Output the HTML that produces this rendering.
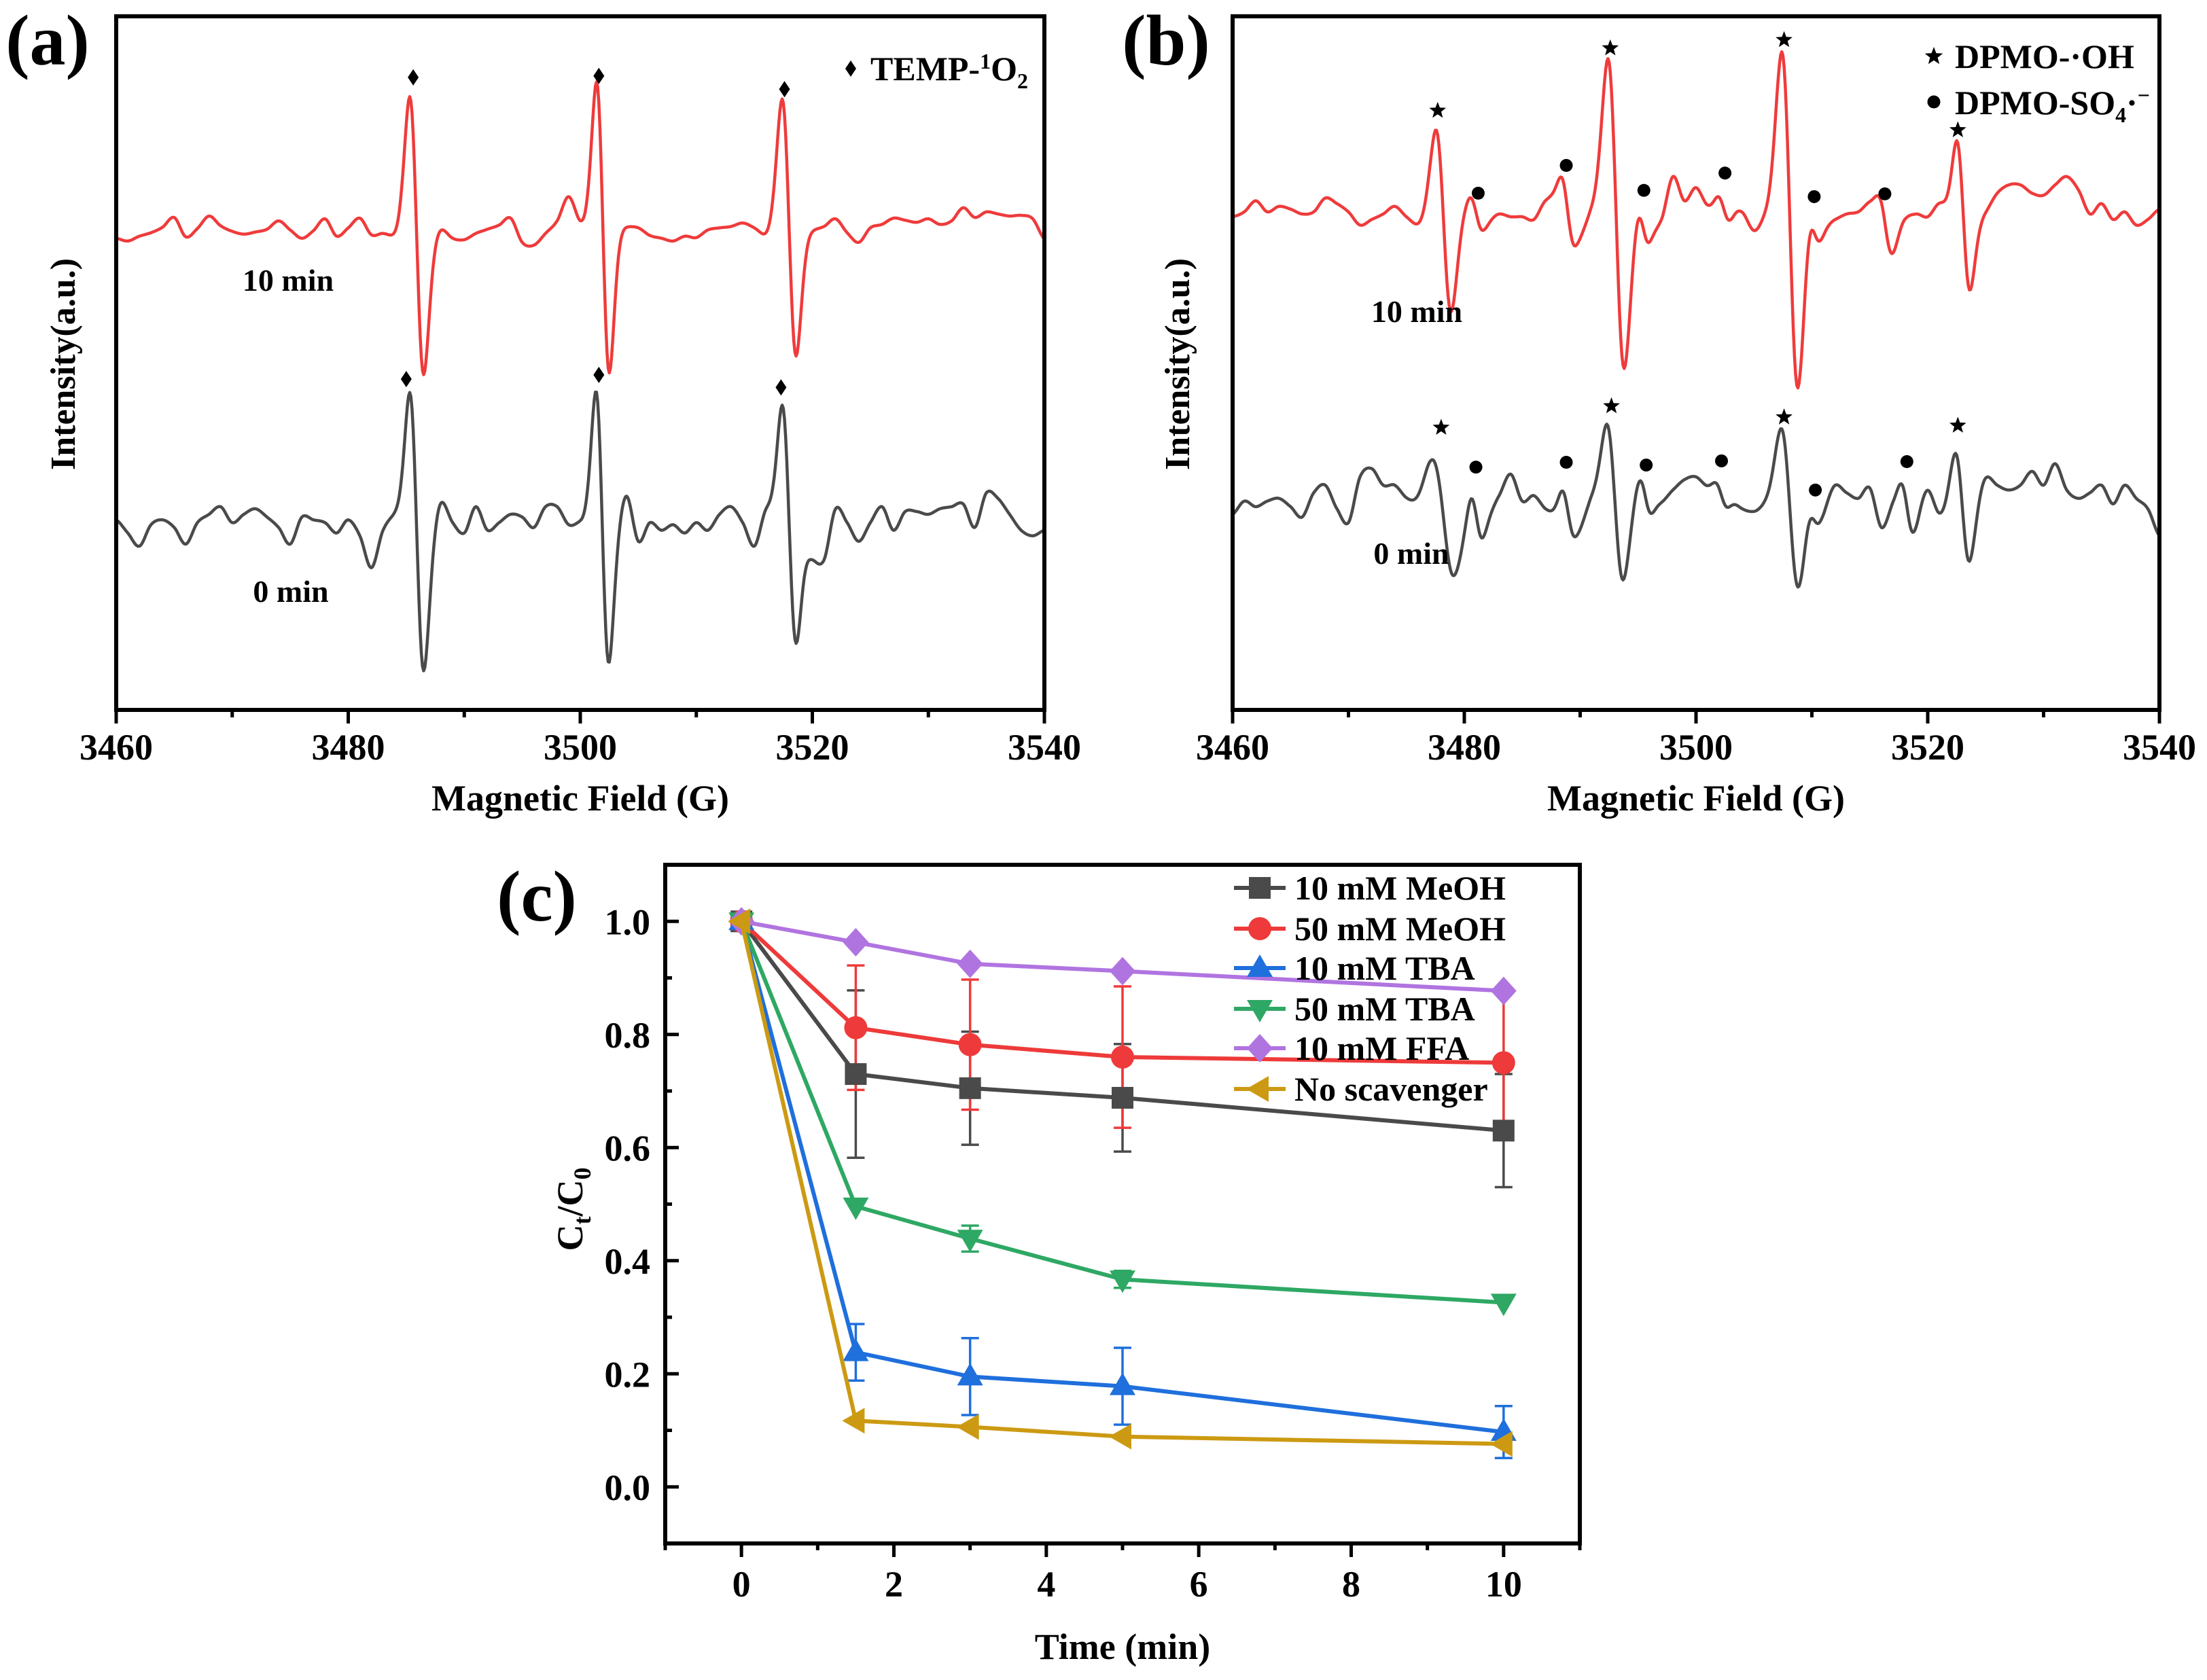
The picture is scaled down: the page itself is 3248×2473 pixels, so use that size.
<!DOCTYPE html>
<html><head><meta charset="utf-8"><style>
html,body{margin:0;padding:0;background:#fff;}
svg{display:block;font-family:"Liberation Serif",serif;font-weight:bold;}
</style></head><body>
<svg id="fig" width="3248" height="2473" viewBox="0 0 3248 2473" xmlns="http://www.w3.org/2000/svg">
<rect width="3248" height="2473" fill="#fff"/>
</svg>
<script>
// ---------- ESR data (panels a, b) ----------
const fieldStart = 3460;
const fieldTicks = [3460, 3480, 3500, 3520, 3540];
// baselines sampled every 1 G from 3460 to 3540 (intensity, arbitrary units 0..100)
const aRedBase = [68.0,67.6,68.3,68.8,69.6,71.0,68.2,69.4,71.2,69.8,69.0,68.6,68.9,69.3,70.5,69.2,68.0,69.1,70.8,68.3,69.5,70.9,68.5,68.7,68.2,68.4,68.4,68.4,69.4,68.0,67.8,68.7,69.3,69.9,70.9,67.4,67.0,68.7,70.5,74.0,70.3,69.6,69.6,69.6,69.7,69.5,68.4,68.0,67.6,68.3,68.1,69.2,69.5,69.7,70.2,69.5,68.4,69.5,69.5,69.5,69.3,69.7,70.8,68.8,67.4,69.5,70.0,70.9,70.6,70.3,70.8,70.0,70.5,72.4,71.0,71.8,71.5,71.2,71.3,70.8,67.9];
const aGrayBase = [27.4,25.5,23.6,26.7,27.4,26.3,23.9,27.0,28.2,29.3,27.0,28.2,29.0,27.8,26.3,23.9,27.8,27.4,27.0,25.5,27.4,25.1,20.5,25.9,27.8,25.9,25.9,25.9,30.1,27.0,25.5,29.3,25.9,27.0,28.2,27.8,26.3,29.3,29.3,26.7,27.0,26.5,26.5,26.5,30.9,24.3,27.0,25.9,26.7,25.5,27.0,25.9,28.2,29.3,27.0,23.6,28.6,27.0,27.0,25.9,22.0,21.6,29.0,27.0,24.3,27.0,29.3,25.9,28.6,28.6,28.2,29.0,29.3,29.7,26.3,31.3,30.5,28.2,25.9,25.1,25.9];
const bRedBase = [71.1,71.8,73.4,71.8,72.6,72.2,71.5,71.8,73.8,73.0,71.8,69.9,70.7,71.5,72.6,71.1,69.9,71.0,71.0,69.9,71.8,71.8,70.7,71.5,71.1,71.1,70.7,73.4,73.8,72.0,69.1,71.5,71.5,71.5,71.5,70.7,69.9,70.7,76.9,73.4,75.3,72.6,72.0,72.6,71.8,69.1,70.7,70.5,70.5,70.5,71.1,69.9,70.7,71.5,71.8,73.0,71.5,67.6,70.7,71.5,71.1,73.0,72.0,72.0,69.9,71.8,74.5,75.7,75.7,74.5,74.2,75.7,76.9,75.0,71.5,73.0,70.7,71.8,69.9,70.7,72.2];
const bGrayBase = [28.2,30.1,29.3,30.1,30.5,29.3,27.8,31.3,32.4,29.0,27.0,33.6,34.8,32.4,32.4,30.5,29.3,29.5,29.5,25.9,26.3,28.5,28.2,30.9,34.0,30.1,30.9,29.0,28.2,29.0,27.0,30.1,30.0,30.0,30.0,31.0,30.9,30.1,31.7,33.2,33.6,32.0,31.0,30.5,29.0,28.6,29.3,29.0,29.0,29.0,29.0,29.3,32.4,31.3,30.5,32.0,26.3,29.3,29.5,28.6,31.7,28.2,29.0,29.0,30.1,33.6,32.4,31.7,32.4,34.4,32.4,35.5,31.7,30.5,31.3,32.4,29.7,32.4,30.5,29.0,25.1];
// peaks: [center (G), amplitude, half-separation (G)]
const aRedPeaks = [[3485.9,20,0.6],[3501.95,21,0.55],[3518.0,18.5,0.6]];
const aGrayPeaks = [[3485.9,20,0.6],[3501.9,19.5,0.55],[3518.0,17,0.6]];
const bRedPeaks = [[3478.2,12.5,0.65],[3493.1,22.4,0.7],[3508.1,24.4,0.7],[3523.05,10,0.55],
  [3481.0,2.0,0.5],[3488.9,3.5,0.5],[3495.4,2.5,0.5],[3502.4,2.0,0.5],[3510.1,2.5,0.5],[3516.3,2.0,0.5]];
const bGrayPeaks = [[3478.1,6.5,0.9],[3493.0,11.2,0.7],[3508.1,11.6,0.75],[3523.0,8,0.6],
  [3481.0,3.5,0.5],[3488.9,3.0,0.5],[3495.6,2.5,0.5],[3502.2,1.5,0.5],[3510.1,1.8,0.5],[3518.2,3.0,0.5]];
// marker annotations [field, intensity]
const aDiamonds = [[3485.6,91.2],[3501.6,91.4],[3517.6,89.5],[3485.0,47.7],[3501.6,48.3],[3517.3,46.5]];
const bStars = [[3477.7,86.4],[3492.6,95.4],[3507.6,96.6],[3522.6,83.6],[3478.0,40.7],[3492.7,43.8],[3507.6,42.2],[3522.6,41.0]];
const bDots = [[3481.2,74.5],[3488.8,78.5],[3495.5,74.9],[3502.5,77.4],[3510.2,74.0],[3516.3,74.4],[3481.0,35.0],[3488.8,35.7],[3495.7,35.3],[3502.2,35.9],[3510.3,31.7],[3518.2,35.8]];

// ---------- kinetics data (panel c) ----------
const times = [0, 1.5, 3, 5, 10];
const cXTicks = [0, 2, 4, 6, 8, 10];
const cYTicks = [0.0, 0.2, 0.4, 0.6, 0.8, 1.0];
const cYTickLabels = ["0.0","0.2","0.4","0.6","0.8","1.0"];
const seriesNames = ["10 mM MeOH","50 mM MeOH","10 mM TBA","50 mM TBA","10 mM FFA","No scavenger"];
const meoh10 = [1, 0.73, 0.705, 0.688, 0.63];
const meoh10Err = [0, 0.148, 0.1, 0.095, 0.1];
const meoh50 = [1, 0.812, 0.782, 0.76, 0.75];
const meoh50Err = [0, 0.11, 0.115, 0.125, 0.125];
const tba10 = [1, 0.238, 0.195, 0.178, 0.097];
const tba10Err = [0, 0.05, 0.068, 0.068, 0.046];
const tba50 = [1, 0.496, 0.439, 0.367, 0.326];
const tba50Err = [0, 0.01, 0.023, 0.015, 0.01];
const ffa10 = [1, 0.963, 0.925, 0.912, 0.877];
const ffa10Err = [0, 0.01, 0.008, 0.008, 0.008];
const noScav = [1, 0.117, 0.106, 0.089, 0.076];
const noScavErr = [0, 0.008, 0.006, 0.006, 0.008];

const NS = "http://www.w3.org/2000/svg";
const svg = document.getElementById('fig');
function mk(tag, attrs, parent){
  const e = document.createElementNS(NS, tag);
  for (const k in attrs) e.setAttribute(k, attrs[k]);
  (parent||svg).appendChild(e);
  return e;
}
function txt(str, x, y, size, parent, anchor){
  const t = mk('text', {x:x, y:y, 'font-size':size, 'text-anchor':anchor||'middle', fill:'#000'}, parent);
  t.textContent = str;
  return t;
}

function esrPanel(name, L, R, T, B){
  const g = mk('g', {});
  
  
  const xs = f => L + (f - 3460) / 80 * (R - L);
  const ys = v => B - v / 100 * (B - T);
  return {g, xs, ys, L, R, T, B};
}
function baseAt(base, f){
  const p = f - fieldStart;
  let k = Math.min(Math.floor(p), base.length-2);
  const t = p - k;
  const p0 = base[Math.max(k-1,0)], p1 = base[k], p2 = base[k+1], p3 = base[Math.min(k+2, base.length-1)];
  const t2 = t*t, t3 = t2*t;
  return 0.5*((2*p1) + (-p0+p2)*t + (2*p0-5*p1+4*p2-p3)*t2 + (-p0+3*p1-3*p2+p3)*t3);
}
function spectrum(P, base, peaks, color, nm){
  let d = '';
  for (let i = 0; i <= 800; i++){
    const f = fieldStart + i * 0.1;
    let v = baseAt(base, f);
    for (const p of peaks){
      const u = (f - p[0]) / p[2];
      v += p[1] * (-u) * Math.exp(0.5 - u*u/2);
    }
    d += (i ? 'L' : 'M') + P.xs(f).toFixed(1) + ' ' + P.ys(v).toFixed(1);
  }
  const path = mk('path', {d:d, fill:'none', stroke:color, 'stroke-width':4.5, 'stroke-linejoin':'round'}, P.g);
  
  
}
function esrAxes(P, prefix){
  const ax = mk('path', {d:`M${P.L} ${P.T}H${P.R}V${P.B}H${P.L}Z`, fill:'none', stroke:'#000', 'stroke-width':6}, P.g);
  
  
  for (let f = 3460; f <= 3540; f += 10){
    const major = (f % 20 === 0);
    mk('line', {x1:P.xs(f), x2:P.xs(f), y1:P.B, y2:P.B + (major?20:11), stroke:'#000', 'stroke-width':5}, P.g);
  }
  for (const t of fieldTicks){
    const l = txt(String(t), P.xs(t), 1118, 54, P.g);
    
    
  }
  const xt = txt('Magnetic Field (G)', (P.L+P.R)/2, 1193, 54, P.g);
  
  
}
function diamond(P, f, v){
  const x = P.xs(f), y = P.ys(v);
  const m = mk('path', {d:`M${x} ${y-12}L${x+8} ${y}L${x} ${y+12}L${x-8} ${y}Z`, fill:'#000'}, P.g);
  
  
}
function star(P, x, y, r){
  let d = '';
  for (let i = 0; i < 10; i++){
    const a = -Math.PI/2 + i*Math.PI/5, rr = i%2 ? r*0.42 : r;
    d += (i?'L':'M') + (x + rr*Math.cos(a)).toFixed(1) + ' ' + (y + rr*Math.sin(a)).toFixed(1);
  }
  const m = mk('path', {d:d+'Z', fill:'#000'}, P.g);
  
  
}
function dot(P, x, y){
  const m = mk('circle', {cx:x, cy:y, r:9.5, fill:'#000'}, P.g);
  
  
}

// Panel a
const A = esrPanel('panel-a', 171, 1537, 24, 1045);
spectrum(A, aRedBase, aRedPeaks, '#ef3b3b', 'spectrum-a-10min');
spectrum(A, aGrayBase, aGrayPeaks, '#4a4a4a', 'spectrum-a-0min');
esrAxes(A, 'a');
for (const d of aDiamonds) diamond(A, d[0], d[1]);
let t;
t = txt('10 min', 424, 428, 46, A.g);  
t = txt('0 min', 428, 886, 46, A.g);  
diamond({xs:f=>f, ys:v=>v, g:A.g}, 1252, 101);
t = mk('text', {x:1281, y:118, 'font-size':50, fill:'#000'}, A.g);
t.innerHTML = 'TEMP-<tspan dy="-17" font-size="32">1</tspan><tspan dy="17">O</tspan><tspan dy="12" font-size="32">2</tspan>';
 
t = txt('Intensity(a.u.)', 0, 0, 52, A.g); t.setAttribute('transform','translate(110 536) rotate(-90)');
 
t = txt('(a)', 70, 95, 106, A.g);  

// Panel b
const Bp = esrPanel('panel-b', 1814, 3178, 24, 1045);
spectrum(Bp, bRedBase, bRedPeaks, '#ef3b3b', 'spectrum-b-10min');
spectrum(Bp, bGrayBase, bGrayPeaks, '#4a4a4a', 'spectrum-b-0min');
esrAxes(Bp, 'b');
for (const s of bStars) star(Bp, Bp.xs(s[0]), Bp.ys(s[1]), 13);
for (const s of bDots) dot(Bp, Bp.xs(s[0]), Bp.ys(s[1]));
t = txt('10 min', 2085, 474, 46, Bp.g);  
t = txt('0 min', 2077, 830, 46, Bp.g);  
star(Bp, 2846, 83, 14);
t = mk('text', {x:2877, y:100, 'font-size':50, fill:'#000'}, Bp.g);
t.textContent = 'DPMO-·OH';
 
dot(Bp, 2846, 150);
t = mk('text', {x:2877, y:168, 'font-size':50, fill:'#000'}, Bp.g);
t.innerHTML = 'DPMO-SO<tspan dy="12" font-size="32">4</tspan><tspan dy="-12">·</tspan><tspan dy="-17" font-size="32">−</tspan>';
 
t = txt('Intensity(a.u.)', 0, 0, 52, Bp.g); t.setAttribute('transform','translate(1750 536) rotate(-90)');
 
t = txt('(b)', 1716, 95, 106, Bp.g);  

// ---------- Panel c ----------
const CL = 979, CR = 2325, CT = 1273, CB = 2272;
const cx = v => CL + (v + 1) / 12 * (CR - CL);
const cy = v => CB - (v + 0.1) / 1.2 * (CB - CT);
const gc = mk('g', {});


const series = [
  {vals: meoh10, err: meoh10Err, color:'#4a4a4a', shape:'square'},
  {vals: meoh50, err: meoh50Err, color:'#ee3a3a', shape:'circle'},
  {vals: tba10, err: tba10Err, color:'#1f6fdc', shape:'up'},
  {vals: tba50, err: tba50Err, color:'#2ea864', shape:'down'},
  {vals: ffa10, err: ffa10Err, color:'#b074e0', shape:'diamond'},
  {vals: noScav, err: noScavErr, color:'#cc9a12', shape:'left'}
];
function marker(shape, x, y, color, parent){
  let e;
  const s = 16;
  if (shape === 'square') e = mk('rect', {x:x-s, y:y-s, width:2*s, height:2*s, fill:color}, parent);
  else if (shape === 'circle') e = mk('circle', {cx:x, cy:y, r:17, fill:color}, parent);
  else {
    let d;
    if (shape === 'up') d = `M${x} ${y-20}L${x+19} ${y+13}L${x-19} ${y+13}Z`;
    if (shape === 'down') d = `M${x} ${y+20}L${x+19} ${y-13}L${x-19} ${y-13}Z`;
    if (shape === 'diamond') d = `M${x} ${y-21}L${x+19} ${y}L${x} ${y+21}L${x-19} ${y}Z`;
    if (shape === 'left') d = `M${x-20} ${y}L${x+13} ${y-19}L${x+13} ${y+19}Z`;
    e = mk('path', {d:d, fill:color}, parent);
  }
  return e;
}
series.forEach((s, i) => {
  const ge = mk('g', {}, gc);
  
  
  times.forEach((tm, j) => {
    if (s.err[j] <= 0.012) return;
    const x = cx(tm), y1 = cy(s.vals[j] + s.err[j]), y2 = cy(s.vals[j] - s.err[j]);
    mk('line', {x1:x, x2:x, y1:y1, y2:y2, stroke:s.color, 'stroke-width':3.5}, ge);
    mk('line', {x1:x-13, x2:x+13, y1:y1, y2:y1, stroke:s.color, 'stroke-width':3.5}, ge);
    mk('line', {x1:x-13, x2:x+13, y1:y2, y2:y2, stroke:s.color, 'stroke-width':3.5}, ge);
  });
});
series.forEach((s, i) => {
  const gs = mk('g', {}, gc);
  
  
  const pts = times.map((tm, j) => cx(tm).toFixed(1) + ',' + cy(s.vals[j]).toFixed(1)).join(' ');
  const pl = mk('polyline', {points:pts, fill:'none', stroke:s.color, 'stroke-width':6, 'stroke-linejoin':'round'}, gs);
  
  
  times.forEach((tm, j) => {
    const m = marker(s.shape, cx(tm), cy(s.vals[j]), s.color, gs);
    
    
  });
});
const fr = mk('rect', {x:CL, y:CT, width:CR-CL, height:CB-CT, fill:'none', stroke:'#000', 'stroke-width':6}, gc);


for (let v = -1; v <= 11; v += 1){
  const major = (v % 2 === 0 && v >= 0);
  mk('line', {x1:cx(v), x2:cx(v), y1:CB, y2:CB + (major?20:10), stroke:'#000', 'stroke-width':5}, gc);
}
for (let k = -1; k <= 11; k++){
  const v = k / 10;
  const major = (k % 2 === 0 && k >= 0);
  mk('line', {x1:CL, x2:CL + (major?20:10), y1:cy(v), y2:cy(v), stroke:'#000', 'stroke-width':5}, gc);
}
cXTicks.forEach(v => {
  const l = txt(String(v), cx(v), 2350, 54, gc);
  
  
});
cYTicks.forEach((v, i) => {
  const l = txt(cYTickLabels[i], CL - 22, cy(v) + 19, 54, gc, 'end');
  
  
});
t = txt('Time (min)', 1652, 2442, 54, gc);  
t = mk('text', {'font-size':54, 'text-anchor':'middle', fill:'#000', transform:'translate(857 1780) rotate(-90)'}, gc);
t.innerHTML = 'C<tspan dy="12" font-size="36">t</tspan><tspan dy="-12">/C</tspan><tspan dy="12" font-size="36">0</tspan>';
 
t = txt('(c)', 790, 1355, 106, gc);  
const legY = [1307, 1367, 1425, 1485, 1543, 1603];
const gl = mk('g', {}, gc);


series.forEach((s, i) => {
  const ge = mk('g', {}, gl);
  
  
  mk('line', {x1:1816, x2:1892, y1:legY[i], y2:legY[i], stroke:s.color, 'stroke-width':6}, ge);
  marker(s.shape, 1854, legY[i], s.color, ge);
  const l = mk('text', {x:1905, y:legY[i] + 17, 'font-size':50, fill:'#000'}, ge);
  l.textContent = seriesNames[i];
});
</script>
</body></html>
